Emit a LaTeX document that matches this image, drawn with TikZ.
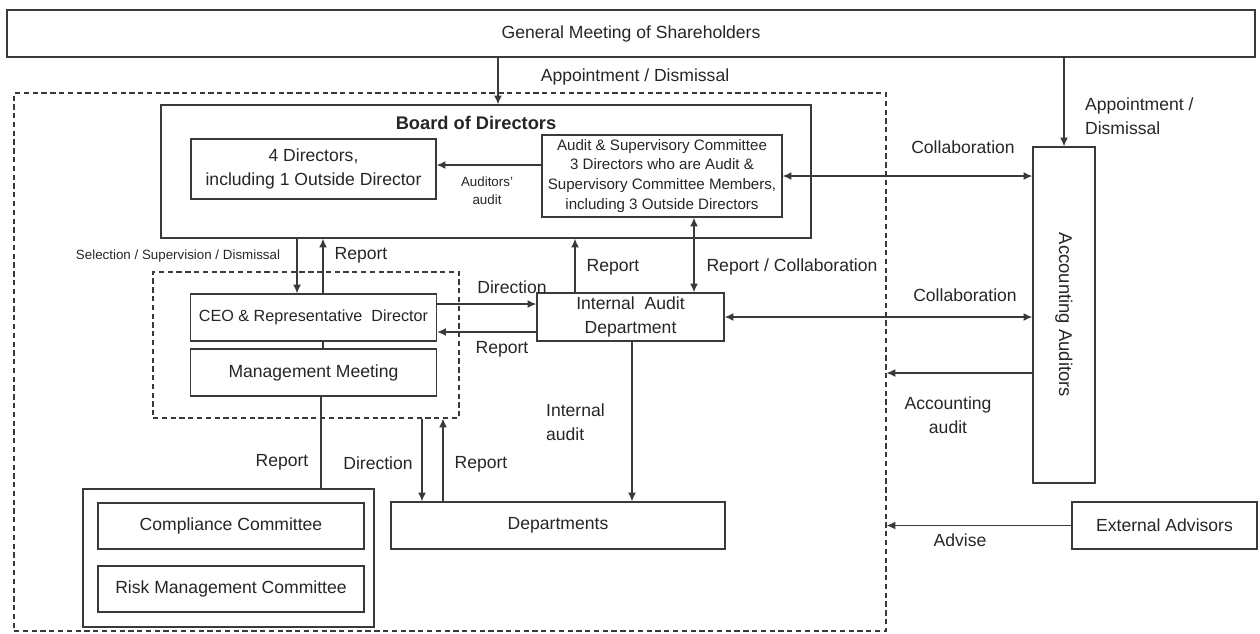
\documentclass[tikz,border=0pt]{standalone}
\usepackage{fontspec}
\setmainfont{Liberation Sans}
\usetikzlibrary{arrows.meta}

\definecolor{ink}{HTML}{262626}
\definecolor{edge}{HTML}{3A3A3A}

\tikzset{
  box/.style={draw=edge, line width=0.8pt, fill=white, inner sep=0pt, text=ink, align=center,
    font=\fontsize{10}{13.5}\selectfont},
  dbox/.style={draw=edge, line width=0.7pt, dash pattern=on 3pt off 2pt, inner sep=0pt},
  lbl/.style={text=ink, inner sep=1pt, font=\fontsize{10}{13.5}\selectfont, align=center},
  small/.style={text=ink, inner sep=1pt, font=\fontsize{7.6}{10}\selectfont, align=center},
  arr/.style={draw=edge, line width=0.7pt, -{Latex[length=5pt,width=4.5pt]}},
  darr/.style={draw=edge, line width=0.7pt, {Latex[length=5pt,width=4.5pt]}-{Latex[length=5pt,width=4.5pt]}},
  link/.style={draw=edge, line width=0.7pt}
}

\begin{document}
\begin{tikzpicture}[x=0.02cm, y=-0.02cm]
\useasboundingbox (0,0) rectangle (1260,633);

% outer frames
\node[dbox, minimum width=17.44cm, minimum height=10.76cm] (outer) at (450,362) {};
\node[box, minimum width=24.96cm, minimum height=0.94cm] (gms) at (631,33.5) {General Meeting of Shareholders};

% board
\node[box, minimum width=13cm, minimum height=2.66cm] (board) at (486,171.5) {};
\node[text=ink, font=\fontsize{10.4}{12}\selectfont\bfseries] (boardlbl) at (476,123) {Board of Directors};
\node[box, minimum width=4.9cm, minimum height=1.2cm] (dirs) at (313.5,169) {4 Directors,\\including 1 Outside Director};
\node[box, minimum width=4.8cm, minimum height=1.64cm, font=\fontsize{8.6}{11.3}\selectfont] (acom) at (662,176)
  {Audit \& Supervisory Committee\\3 Directors who are Audit \&\\Supervisory Committee Members,\\including 3 Outside Directors};

% executive side
\node[dbox, minimum width=6.12cm, minimum height=2.92cm] (inner) at (306,345) {};
\node[box, minimum width=4.92cm, minimum height=0.94cm, font=\fontsize{9.2}{12}\selectfont] (ceo) at (313.5,317.5) {CEO \& Representative~~Director};
\node[box, minimum width=4.92cm, minimum height=0.94cm] (mm) at (313.5,372.5) {Management Meeting};
\node[box, minimum width=3.74cm, minimum height=0.96cm] (iad) at (630.5,317) {Internal~~Audit\\Department};
\node[box, minimum width=6.68cm, minimum height=0.94cm] (depts) at (558,525.5) {Departments};

% committees
\node[box, minimum width=5.82cm, minimum height=2.76cm] (comm) at (228.5,558) {};
\node[box, minimum width=5.32cm, minimum height=0.92cm] (comp) at (231,526) {Compliance Committee};
\node[box, minimum width=5.32cm, minimum height=0.92cm] (risk) at (231,589) {Risk Management Committee};

% outside
\node[box, minimum width=1.24cm, minimum height=6.72cm] (acc) at (1064,315) {};
\node[text=ink, rotate=-90, font=\fontsize{10.5}{12}\selectfont] (acclbl) at (acc.center) {Accounting Auditors};
\node[box, minimum width=3.7cm, minimum height=0.94cm] (ext) at (1164.5,525.5) {External Advisors};

% connectors
\draw[arr] (gms.south -| 498,0) -- (board.north -| 498,0);
\draw[arr] (gms.south -| acc.north) -- (acc.north);
\draw[arr] (acom.west |- 0,165) -- (dirs.east |- 0,165);
\draw[darr] (acom.east) -- (acc.west |- acom.east);
\draw[arr] (board.south -| 297,0) -- (ceo.north -| 297,0);
\draw[arr] (ceo.north -| 323,0) -- (board.south -| 323,0);
\draw[link] (ceo.south -| 323,0) -- (mm.north -| 323,0);
\draw[arr] (iad.north -| 575,0) -- (board.south -| 575,0);
\draw[darr] (acom.south -| 694,0) -- (iad.north -| 694,0);
\draw[arr] (ceo.east |- 0,304) -- (iad.west |- 0,304);
\draw[arr] (iad.west |- 0,332) -- (ceo.east |- 0,332);
\draw[darr] (iad.east) -- (acc.west |- iad.east);
\draw[arr] (acc.west |- 0,373) -- (outer.east |- 0,373);
\draw[arr] (ext.west) -- (outer.east |- ext.west);
\draw[arr] (iad.south -| 632,0) -- (depts.north -| 632,0);
\draw[arr] (inner.south -| 422,0) -- (depts.north -| 422,0);
\draw[arr] (depts.north -| 443,0) -- (inner.south -| 443,0);
\draw[link] (mm.south -| 321,0) -- (comm.north -| 321,0);

% labels
\node[lbl] (l1) at (635,77) {Appointment / Dismissal};
\node[lbl, anchor=west, align=left] (l2) at (1083,116) {Appointment /\\Dismissal};
\node[lbl] (l3) at (963,147) {Collaboration};
\node[small] (l4) at (487,191) {Auditors'\\audit};
\node[small] (l5) at (178,256) {Selection / Supervision / Dismissal};
\node[lbl] (l6) at (361,255) {Report};
\node[lbl] (l7) at (613,267) {Report};
\node[lbl] (l8) at (792,267) {Report / Collaboration};
\node[lbl] (l9) at (512,287) {Direction};
\node[lbl] (l10) at (502,349) {Report};
\node[lbl] (l11) at (965,295) {Collaboration};
\node[lbl, anchor=west, align=left] (l12) at (544,422) {Internal\\audit};
\node[lbl] (l13) at (948,415) {Accounting\\audit};
\node[lbl] (l14) at (282,462) {Report};
\node[lbl] (l15) at (378,463) {Direction};
\node[lbl] (l16) at (481,464) {Report};
\node[lbl] (l17) at (960,540) {Advise};
\end{tikzpicture}
\end{document}
